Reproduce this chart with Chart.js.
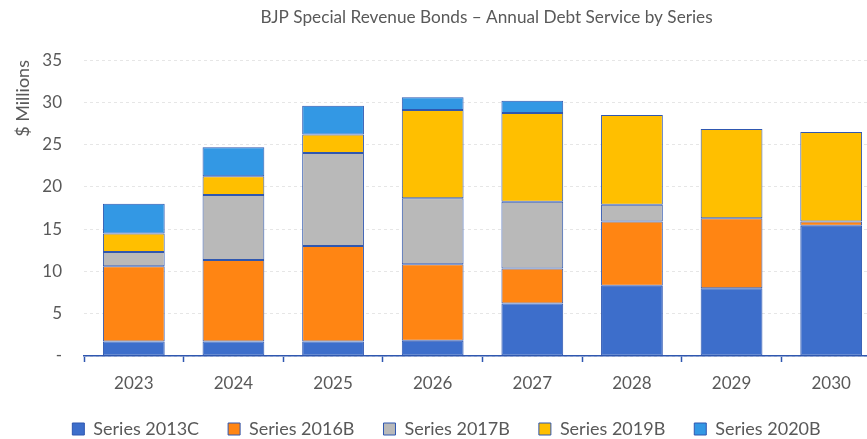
<!DOCTYPE html>
<html>
<head>
<meta charset="utf-8">
<script src="https://cdn.jsdelivr.net/npm/chart.js@4.4.1/dist/chart.umd.min.js"></script>
<style>
  html, body { margin: 0; padding: 0; background: #fff; overflow: hidden; }
  #wrap { position: relative; width: 896px; height: 439px; }
</style>
</head>
<body>
<div id="wrap"><canvas id="c"></canvas></div>
<script>
const categories = ['2023', '2024', '2025', '2026', '2027', '2028', '2029', '2030'];
const series2013C = [1.7, 1.7, 1.7, 1.8, 6.2, 8.3, 8.0, 15.4];
const series2016B = [8.9, 9.65, 11.3, 9.05, 4.15, 7.6, 8.3, 0.5];
const series2017B = [1.7, 7.7, 11.0, 7.8, 7.9, 2.0, 0, 0];
const series2019B = [2.2, 2.2, 2.2, 10.45, 10.5, 10.6, 10.55, 10.6];
const series2020B = [3.5, 3.45, 3.4, 1.5, 1.45, 0, 0, 0];
const yTicks = [0, 5, 10, 15, 20, 25, 30, 35];

const FONT = 'Lato';
const TXT = '#595959';
const EDGE = '#2f57b0';

function ds(label, data, color) {
  return {
    label, data,
    backgroundColor: color,
    borderColor: EDGE,
    borderWidth: 1,
    borderSkipped: false,
    categoryPercentage: 1.0,
    barPercentage: 0.62
  };
}

const titleCenterPlugin = {
  id: 'titleCenter',
  afterLayout(chart) {
    const tb = chart.titleBlock;
    if (tb) {
      const ca = chart.chartArea;
      tb.left = ca.left + 4;
      tb.right = ca.right + 4;
    }
  }
};

new Chart(document.getElementById('c'), {
  type: 'bar',
  data: {
    labels: categories,
    datasets: [
      ds('Series 2013C', series2013C, '#3d6ecb'),
      ds('Series 2016B', series2016B, '#ff8513'),
      ds('Series 2017B', series2017B, '#b9b9b9'),
      ds('Series 2019B', series2019B, '#ffbf00'),
      ds('Series 2020B', series2020B, '#3398e4')
    ]
  },
  options: {
    responsive: true,
    maintainAspectRatio: false,
    animation: false,
    layout: { padding: { left: 12, right: 15, top: 5, bottom: 2 } },
    plugins: {
      title: {
        display: true,
        text: 'BJP Special Revenue Bonds \u2013 Annual Debt Service by Series',
        color: TXT,
        font: { family: FONT, size: 17.2, weight: 'normal' },
        padding: { top: 2, bottom: 32.4 }
      },
      legend: {
        position: 'bottom',
        maxHeight: 46,
        labels: {
          color: TXT,
          font: { family: FONT, size: 18 },
          boxWidth: 12,
          boxHeight: 12,
          padding: 29
        }
      },
      tooltip: { enabled: false }
    },
    scales: {
      x: {
        stacked: true,
        afterFit(scale) { scale.height = 35; },
        grid: {
          display: true,
          drawOnChartArea: false,
          drawTicks: true,
          tickLength: 6,
          tickColor: EDGE,
          tickWidth: 1.5
        },
        border: { display: true, color: EDGE, width: 1.5 },
        ticks: { color: TXT, font: { family: FONT, size: 17, lineHeight: 1 }, padding: 13.5 }
      },
      y: {
        stacked: true,
        min: 0,
        max: 35,
        afterBuildTicks(scale) { scale.ticks = yTicks.map(v => ({ value: v })); },
        afterFit(scale) { scale.width = 72; },
        grid: {
          color: '#e6e6e6',
          lineWidth: 1,
          drawTicks: false
        },
        border: { display: false, dash: [3, 3] },
        ticks: {
          color: TXT,
          font: { family: FONT, size: 17 },
          padding: 22,
          callback: v => (v === 0 ? '-' : String(v))
        },
        title: {
          display: true,
          text: '$ Millions',
          align: 'end',
          color: TXT,
          font: { family: FONT, size: 18 },
          padding: { top: 0, bottom: 6 }
        }
      }
    }
  },
  plugins: [titleCenterPlugin]
});
</script>
</body>
</html>
